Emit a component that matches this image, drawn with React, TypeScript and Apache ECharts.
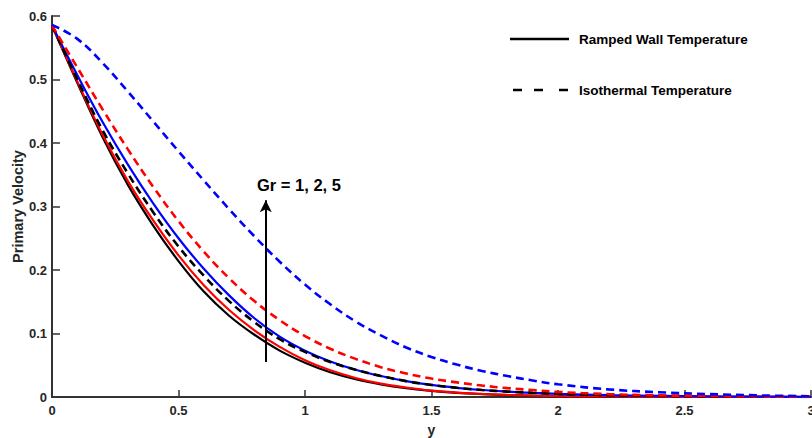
import React, { useEffect, useRef } from "react";
import * as echarts from "echarts";

const yPos = [0, 0.1, 0.2, 0.3, 0.4, 0.5, 0.6, 0.7, 0.8, 0.9, 1.0, 1.1, 1.2, 1.3, 1.4, 1.5, 1.6, 1.7, 1.8, 1.9, 2.0, 2.2, 2.4, 2.6, 2.8, 3.0];

// Ramped wall temperature (solid)
const rampedGr1 = [0.585, 0.495, 0.409, 0.334, 0.27, 0.214, 0.166, 0.128, 0.098, 0.073, 0.054, 0.039, 0.028, 0.02, 0.014, 0.0095, 0.0065, 0.0045, 0.003, 0.002, 0.0015, 0.0008, 0.0004, 0.0002, 0.0001, 0];
const rampedGr2 = [0.585, 0.497, 0.413, 0.34, 0.278, 0.223, 0.176, 0.137, 0.105, 0.079, 0.058, 0.042, 0.03, 0.021, 0.015, 0.01, 0.007, 0.0048, 0.0032, 0.0022, 0.0015, 0.0008, 0.0004, 0.0002, 0.0001, 0];
const rampedGr5 = [0.585, 0.507, 0.433, 0.366, 0.305, 0.25, 0.202, 0.16, 0.124, 0.095, 0.073, 0.056, 0.043, 0.033, 0.025, 0.019, 0.0145, 0.011, 0.0085, 0.0065, 0.005, 0.003, 0.0018, 0.001, 0.0005, 0.0002];

// Isothermal temperature (dashed)
const isoGr1 = [0.585, 0.5, 0.42, 0.352, 0.291, 0.237, 0.191, 0.151, 0.118, 0.091, 0.071, 0.055, 0.043, 0.033, 0.025, 0.019, 0.0145, 0.011, 0.0085, 0.0065, 0.005, 0.003, 0.0018, 0.001, 0.0005, 0.0002];
const isoGr2 = [0.585, 0.519, 0.453, 0.39, 0.331, 0.277, 0.229, 0.187, 0.151, 0.121, 0.096, 0.076, 0.06, 0.047, 0.037, 0.029, 0.023, 0.018, 0.014, 0.011, 0.008, 0.0045, 0.0025, 0.0014, 0.0007, 0.0003];
const isoGr5 = [0.586, 0.564, 0.526, 0.481, 0.434, 0.387, 0.341, 0.296, 0.253, 0.213, 0.177, 0.146, 0.119, 0.097, 0.078, 0.063, 0.051, 0.041, 0.033, 0.026, 0.02, 0.012, 0.0075, 0.0045, 0.0025, 0.0012];

const xTicks = { min: 0, max: 3, interval: 0.5 };
const yTicks = { min: 0, max: 0.6, interval: 0.1 };

const legendLabels = ["Ramped Wall Temperature", "Isothermal Temperature"];
const annotationText = "Gr = 1, 2, 5";
const arrowX = 0.845;
const arrowFrom = 0.055;
const arrowTo = 0.31;

const pairs = (vals: number[]) => yPos.map((x, i) => [x, vals[i]]);

export default function App() {
  const ref = useRef<HTMLDivElement>(null);
  useEffect(() => {
    if (!ref.current) return;
    const chart = echarts.init(ref.current, null, { renderer: "svg" });
    const font = "Liberation Sans, Arial, sans-serif";
    const axisColor = "#333333";
    const mk = (name: string, vals: number[], color: string, dashed: boolean, extra: any = {}) => ({
      name,
      type: "line",
      data: pairs(vals),
      showSymbol: false,
      symbol: "none",
      smooth: 0.4,
      lineStyle: { color, width: dashed ? 2.6 : 2.2, type: dashed ? [8, 5] : "solid" },
      ...extra,
    });
    chart.setOption({
      animation: false,
      backgroundColor: "#ffffff",
      grid: { left: 52, right: 1, top: 16, bottom: 41, containLabel: false, outerBoundsMode: "none" },
      xAxis: {
        type: "value",
        min: xTicks.min,
        max: xTicks.max,
        interval: xTicks.interval,
        name: "y",
        nameLocation: "middle",
        nameGap: 26,
        nameMoveOverlap: false,
        nameTextStyle: { fontFamily: font, fontWeight: "bold", fontSize: 14, color: "#262626" },
        axisLine: { lineStyle: { color: axisColor, width: 2 } },
        axisTick: { inside: true, length: 7, lineStyle: { color: axisColor, width: 1.5 } },
        axisLabel: { fontFamily: font, fontWeight: "bold", fontSize: 13, color: "#262626", margin: 7, showMaxLabel: true },
        splitLine: { show: false },
      },
      yAxis: {
        type: "value",
        min: yTicks.min,
        max: yTicks.max,
        interval: yTicks.interval,
        name: "Primary Velocity",
        nameLocation: "middle",
        nameGap: 27,
        nameMoveOverlap: false,
        nameTextStyle: { fontFamily: font, fontWeight: "bold", fontSize: 14.5, color: "#262626" },
        axisLine: { lineStyle: { color: axisColor, width: 2 } },
        axisTick: { inside: true, length: 8, lineStyle: { color: axisColor, width: 1.5 } },
        axisLabel: { fontFamily: font, fontWeight: "bold", fontSize: 13, color: "#262626", margin: 5 },
        splitLine: { show: false },
      },
      series: [
        mk("Ramped Gr=1", rampedGr1, "#000000", false),
        mk("Ramped Gr=2", rampedGr2, "#ff0000", false),
        mk("Ramped Gr=5", rampedGr5, "#0000ff", false),
        mk("Isothermal Gr=1", isoGr1, "#000000", true),
        mk("Isothermal Gr=2", isoGr2, "#ff0000", true),
        mk("Isothermal Gr=5", isoGr5, "#0000ff", true, {
          markLine: {
            silent: true,
            symbol: ["none", "arrow"],
            symbolSize: [9, 12],
            label: { show: false },
            lineStyle: { color: "#000000", width: 2, type: "solid" },
            data: [[{ coord: [arrowX, arrowFrom] }, { coord: [arrowX, arrowTo] }]],
          },
        }),
      ],
      graphic: [
        { type: "line", shape: { x1: 510, y1: 39, x2: 569, y2: 39 }, style: { stroke: "#000", lineWidth: 2.5 } },
        { type: "text", x: 579, y: 39, style: { text: legendLabels[0], font: `bold 13.5px ${font}`, fill: "#000", textVerticalAlign: "middle" } },
        { type: "line", shape: { x1: 513, y1: 90, x2: 522, y2: 90 }, style: { stroke: "#000", lineWidth: 2.5 } },
        { type: "line", shape: { x1: 534, y1: 90, x2: 543, y2: 90 }, style: { stroke: "#000", lineWidth: 2.5 } },
        { type: "line", shape: { x1: 559, y1: 90, x2: 568, y2: 90 }, style: { stroke: "#000", lineWidth: 2.5 } },
        { type: "text", x: 579, y: 90, style: { text: legendLabels[1], font: `bold 13.5px ${font}`, fill: "#000", textVerticalAlign: "middle" } },
        { type: "text", x: 257, y: 185, style: { text: annotationText, font: `bold 16.5px ${font}`, fill: "#000", textVerticalAlign: "middle" } },
      ],
    });
    return () => chart.dispose();
  }, []);
  return <div ref={ref} style={{ position: "fixed", left: 0, top: 0, width: 812, height: 438 }} />;
}
